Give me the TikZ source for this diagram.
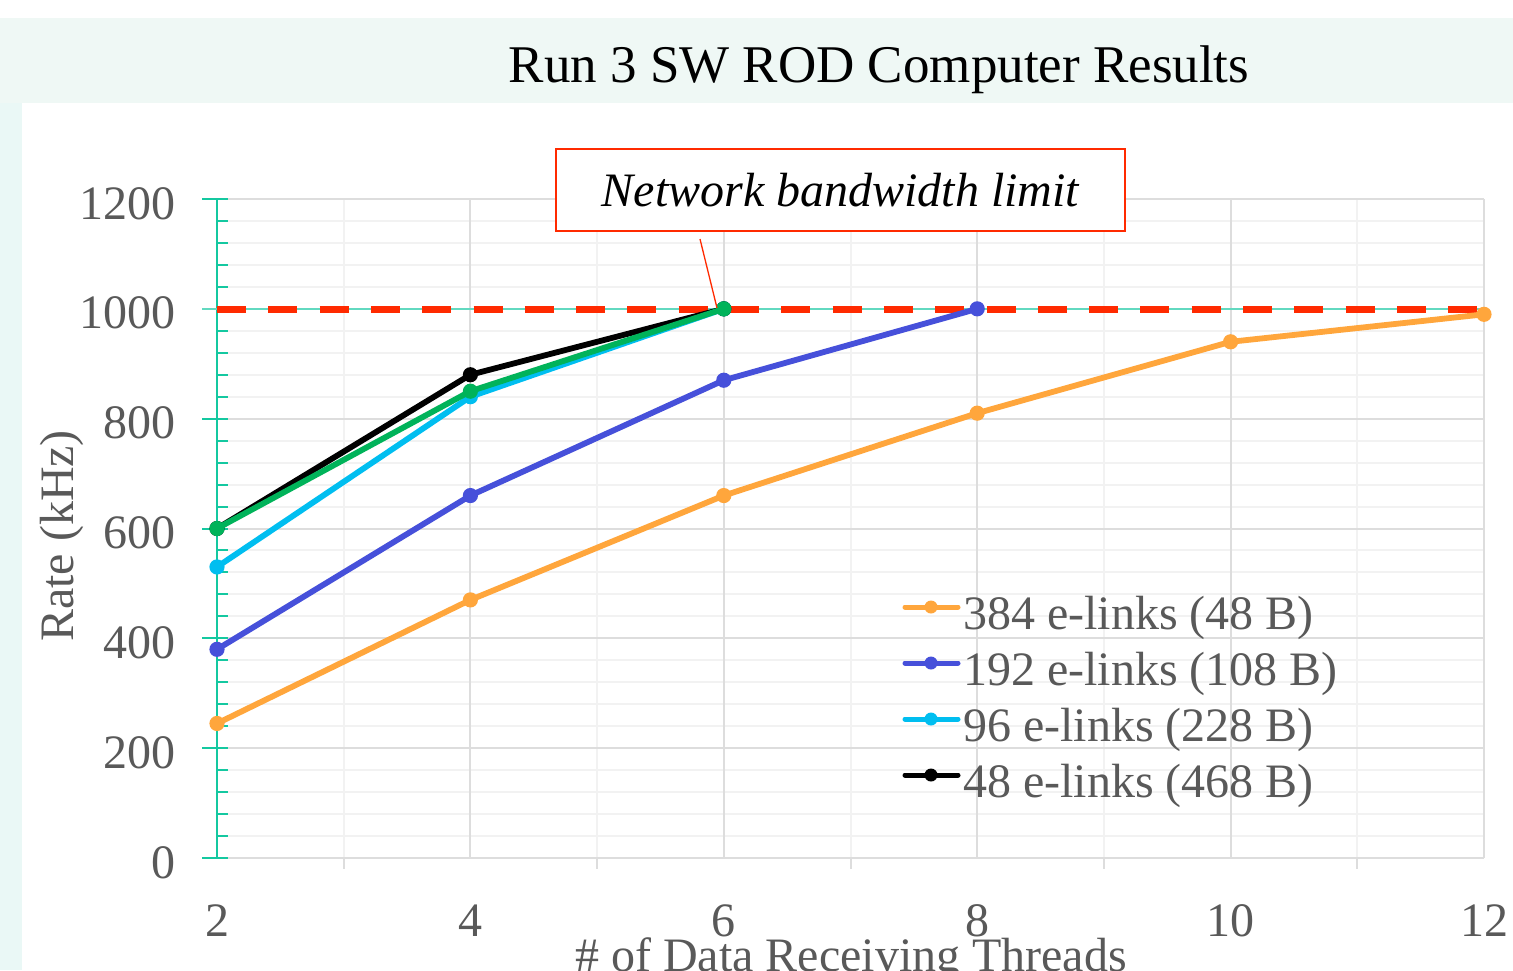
\documentclass[tikz,border=0pt]{standalone}
\usepackage{fontspec}
\setmainfont{Liberation Serif}
\definecolor{mint}{HTML}{EFF8F5}
\definecolor{mintl}{HTML}{EAF8F6}
\definecolor{teal1}{HTML}{14C8A0}
\definecolor{teal2}{HTML}{62D9C0}
\definecolor{gmaj}{HTML}{DDDDDD}
\definecolor{gmin}{HTML}{F2F2F2}
\definecolor{txt}{HTML}{595959}
\definecolor{redd}{HTML}{FF2A00}
\definecolor{sorange}{HTML}{FFA63C}
\definecolor{sblue}{HTML}{4650DA}
\definecolor{scyan}{HTML}{00BEF0}
\definecolor{sgreen}{HTML}{00B35A}
\begin{document}
\begin{tikzpicture}[x=1pt,y=-1pt,
  big/.style={font=\fontsize{48}{58}\selectfont, text=txt, inner sep=0pt},
  gridminor/.style={gmin, line width=2pt},
  gridmajor/.style={gmaj, line width=2pt},
  ser/.style={line width=5.8pt, line join=round, line cap=round},
  mk/.style={radius=7.6pt}]
\useasboundingbox (0,0) rectangle (1513,970);
\clip (0,0) rectangle (1513,970);
\fill[white] (0,0) rectangle (1513,970);
\fill[mint] (0,18) rectangle (1513,103);
\fill[mintl] (0,103) rectangle (22,970);
% grid
\foreach \v in {40,80,...,1160}
  \draw[gridminor] (217,{858-\v*0.54917}) -- (1484,{858-\v*0.54917});
\foreach \x in {3,5,7,9,11}
  \draw[gridminor] ({217+(\x-2)*126.7},199) -- ({217+(\x-2)*126.7},858);
\foreach \v in {200,400,...,1200}
  \draw[gridmajor] (217,{858-\v*0.54917}) -- (1484,{858-\v*0.54917});
\foreach \x in {4,6,8,10,12}
  \draw[gridmajor] ({217+(\x-2)*126.7},199) -- ({217+(\x-2)*126.7},858);
% x axis
\draw[gridmajor] (217,858) -- (1484,858);
\foreach \x in {3,5,7,9,11}
  \draw[gridmajor] ({217+(\x-2)*126.7},858) -- ({217+(\x-2)*126.7},869);
\foreach \x in {2,4,...,12}
  \node[big, anchor=base] (xl\x) at ({217+(\x-2)*126.7},936) {\x};
% y axis
\draw[teal1, line width=2pt] (217,199) -- (217,858);
\foreach \v in {40,80,...,1160}
  \draw[teal1, line width=2pt] (217,{858-\v*0.54917}) -- (228,{858-\v*0.54917});
\foreach \v in {0,200,...,1200}{
  \draw[teal1, line width=2pt] (202,{858-\v*0.54917}) -- (228,{858-\v*0.54917});
  \node[big, anchor=base east] (yl\v) at (176,{858-\v*0.54917+20}) {\v};
}
% 1000 line
\draw[teal2, line width=2pt] (202,309) -- (1484,309);
\draw[redd, line width=7pt, dash pattern=on 29pt off 22.3pt] (217,309) -- (1484,309);
% data coordinates
\begin{scope}[shift={(-36.4,858)}, x=126.7pt, y=0.54917pt]
  \coordinate (o2) at (2,245); \coordinate (o4) at (4,470); \coordinate (o6) at (6,660);
  \coordinate (o8) at (8,810); \coordinate (o10) at (10,940); \coordinate (o12) at (12,990);
  \coordinate (b2) at (2,380); \coordinate (b4) at (4,660); \coordinate (b6) at (6,870);
  \coordinate (b8) at (8,1000);
  \coordinate (c2) at (2,530); \coordinate (c4) at (4,840); \coordinate (c6) at (6,1000);
  \coordinate (k2) at (2,600); \coordinate (k4) at (4,880); \coordinate (k6) at (6,1000);
  \coordinate (g2) at (2,600); \coordinate (g4) at (4,850); \coordinate (g6) at (6,1000);
\end{scope}
\draw[ser, sorange] (o2) -- (o4) -- (o6) -- (o8) -- (o10) -- (o12);
\foreach \p in {o2,o4,o6,o8,o10,o12} \fill[sorange] (\p) circle[mk];
\draw[ser, sblue] (b2) -- (b4) -- (b6) -- (b8);
\foreach \p in {b2,b4,b6,b8} \fill[sblue] (\p) circle[mk];
\draw[ser, scyan] (c2) -- (c4) -- (c6);
\foreach \p in {c2,c4,c6} \fill[scyan] (\p) circle[mk];
\draw[ser, black] (k2) -- (k4) -- (k6);
\foreach \p in {k2,k4,k6} \fill[black] (\p) circle[mk];
\draw[ser, sgreen] (g2) -- (g4) -- (g6);
\foreach \p in {g2,g4,g6} \fill[sgreen] (\p) circle[mk];
% annotation
\node[draw=redd, line width=1.5pt, fill=white, minimum width=569pt, minimum height=82pt,
      inner sep=0pt, font=\fontsize{48}{58}\selectfont\itshape, text=black] (ann) at (840.5,190) {Network bandwidth limit};
\coordinate (cstart) at (700,239);
\coordinate (ctip) at (717,308);
\draw[redd, line width=1.3pt] (cstart) -- (ctip);
% legend
\foreach \i/\col/\lab in {0/sorange/384 e-links (48 B),1/sblue/192 e-links (108 B),2/scyan/96 e-links (228 B),3/black/48 e-links (468 B)}{
  \coordinate (la\i) at (905,{607+56*\i});
  \coordinate (lb\i) at (958,{607+56*\i});
  \coordinate (lm\i) at (931,{607+56*\i});
  \draw[\col, line width=5pt, line cap=round] (la\i) -- (lb\i);
  \fill[\col] (lm\i) circle[radius=6.5pt];
  \node[big, anchor=base west] (lt\i) at (963,{629+56*\i}) {\lab};
}
% titles
\node[font=\fontsize{53}{64}\selectfont, text=black, inner sep=0pt, anchor=base] (title) at (879,82) {Run 3 SW ROD Computer Results};
\node[big, rotate=90, anchor=base] (ylab) at (73,536) {Rate (kHz)};
\node[big, anchor=base] (xlab) at (851,971) {\# of Data Receiving Threads};
\end{tikzpicture}
\end{document}
